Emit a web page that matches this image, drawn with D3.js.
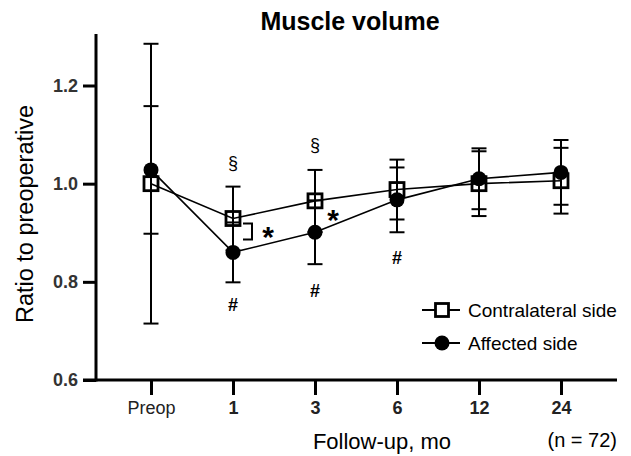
<!DOCTYPE html>
<html>
<head>
<meta charset="utf-8">
<script src="https://cdn.jsdelivr.net/npm/d3@7"></script>
<style>
  html, body { margin: 0; padding: 0; background: #fff; }
  svg { display: block; font-family: "Liberation Sans", Arial, sans-serif; }
</style>
</head>
<body>
<svg id="chart" width="631" height="456"></svg>
<script>
// ---- data ----
const categories = ["Preop", "1", "3", "6", "12", "24"];
const contralateral = [1.000, 0.929, 0.965, 0.988, 1.000, 1.006];
const contralateralErr = [0.285, 0.065, 0.063, 0.061, 0.066, 0.067];
const affected = [1.028, 0.860, 0.901, 0.967, 1.010, 1.023];
const affectedErr = [0.130, 0.061, 0.065, 0.066, 0.062, 0.066];
const yTicks = [0.6, 0.8, 1.0, 1.2];
const yMax = 1.305;
const sectionMarks = [{cat: "1", v: 1.039}, {cat: "3", v: 1.077}];                      // §
const hashMarks = [{cat: "1", v: 0.753}, {cat: "3", v: 0.783}, {cat: "6", v: 0.850}];   // #
const starMarks = [{cat: "1", v: 0.906, dx: 35}, {cat: "3", v: 0.941, dx: 18}];         // *

const svg = d3.select("#chart");
const x = d3.scalePoint().domain(categories).range([151, 561]);
const y = d3.scaleLinear().domain([0.6, 1.2]).range([380, 85.5]);
const axisLeft = 96, axisRight = 617;

// title
svg.append("text").attr("x", 350).attr("y", 30).attr("text-anchor", "middle")
  .attr("font-size", 25).attr("font-weight", "bold").text("Muscle volume");

// y axis
const gy = svg.append("g").attr("transform", `translate(${axisLeft},0)`)
  .call(d3.axisLeft(y).tickValues(yTicks).tickFormat(d3.format(".1f")).tickSize(13).tickPadding(5));
gy.select(".domain").remove();
gy.selectAll(".tick line").attr("stroke", "#000").attr("stroke-width", 3);
gy.selectAll(".tick text").attr("font-size", 18).attr("font-weight", "bold").attr("fill", "#333")
  .attr("font-family", "Liberation Sans, Arial, sans-serif");
svg.append("line").attr("x1", axisLeft).attr("x2", axisLeft).attr("y1", y(yMax)).attr("y2", y(0.6) + 1.5)
  .attr("stroke", "#000").attr("stroke-width", 3);

// x axis
const gx = svg.append("g").attr("transform", `translate(0,${y(0.6)})`)
  .call(d3.axisBottom(x).tickSize(15).tickPadding(6));
gx.select(".domain").remove();
gx.selectAll(".tick line").attr("stroke", "#000").attr("stroke-width", 3);
gx.selectAll(".tick text").attr("font-size", 18).attr("fill", "#222")
  .attr("font-family", "Liberation Sans, Arial, sans-serif")
  .attr("font-weight", d => d === "Preop" ? "normal" : "bold");
svg.append("line").attr("x1", axisLeft - 13).attr("x2", axisRight).attr("y1", y(0.6)).attr("y2", y(0.6))
  .attr("stroke", "#000").attr("stroke-width", 3);

// axis titles
svg.append("text").attr("transform", `translate(33,${214}) rotate(-90)`).attr("text-anchor", "middle")
  .attr("font-size", 23.5).text("Ratio to preoperative");
svg.append("text").attr("x", 382).attr("y", 449).attr("text-anchor", "middle")
  .attr("font-size", 22).text("Follow-up, mo");
svg.append("text").attr("x", 617).attr("y", 447).attr("text-anchor", "end")
  .attr("font-size", 20).text("(n = 72)");

// series
const series = [
  {name: "Contralateral side", vals: contralateral, err: contralateralErr, type: "square"},
  {name: "Affected side", vals: affected, err: affectedErr, type: "circle"}
];
const line = d3.line().x(d => x(d.c)).y(d => y(d.v));
series.forEach(s => {
  const pts = categories.map((c, i) => ({c, v: s.vals[i], e: s.err[i]}));
  svg.append("path").datum(pts).attr("d", line).attr("fill", "none")
    .attr("stroke", "#000").attr("stroke-width", 1.6);
  s.pts = pts;
});
series.forEach(s => {
  const g = svg.append("g");
  if (s.type === "square") {
    g.selectAll("rect").data(s.pts).join("rect")
      .attr("x", d => x(d.c) - 7).attr("y", d => y(d.v) - 7)
      .attr("width", 14).attr("height", 14)
      .attr("fill", "none").attr("stroke", "#000").attr("stroke-width", 2.8);
  } else {
    g.selectAll("circle").data(s.pts).join("circle")
      .attr("cx", d => x(d.c)).attr("cy", d => y(d.v)).attr("r", 7.5).attr("fill", "#000");
  }
});
// error bars
series.forEach(s => {
  const g = svg.append("g").attr("stroke", "#000").attr("stroke-width", 2);
  s.pts.forEach(d => {
    const cx = x(d.c);
    g.append("line").attr("x1", cx).attr("x2", cx).attr("y1", y(d.v + d.e)).attr("y2", y(d.v - d.e));
    [d.v + d.e, d.v - d.e].forEach(v => {
      g.append("line").attr("x1", cx - 7.5).attr("x2", cx + 7.5).attr("y1", y(v)).attr("y2", y(v));
    });
  });
});

// annotations
sectionMarks.forEach(m => {
  svg.append("text").attr("x", x(m.cat)).attr("y", y(m.v) + 4.8).attr("text-anchor", "middle")
    .attr("font-size", 18).text("§");
});
hashMarks.forEach(m => {
  svg.append("text").attr("x", x(m.cat)).attr("y", y(m.v) + 6.5).attr("text-anchor", "middle")
    .attr("font-size", 18).attr("font-weight", "bold").text("#");
});
starMarks.forEach(m => {
  svg.append("text").attr("x", x(m.cat) + m.dx).attr("y", y(m.v) + 17).attr("text-anchor", "middle")
    .attr("font-size", 30).attr("font-weight", "bold").text("*");
});
// bracket between the two series at month 1
const bx = x("1");
svg.append("path")
  .attr("d", `M${bx + 10},${y(contralateral[1]) + 5} H${bx + 19} V${y(affected[1]) - 13} H${bx + 10}`)
  .attr("fill", "none").attr("stroke", "#000").attr("stroke-width", 2);

// legend
const legend = [
  {name: "Contralateral side", type: "square", yy: 310},
  {name: "Affected side", type: "circle", yy: 343}
];
legend.forEach(l => {
  const g = svg.append("g");
  g.append("line").attr("x1", 422).attr("x2", 460).attr("y1", l.yy).attr("y2", l.yy)
    .attr("stroke", "#000").attr("stroke-width", 2);
  if (l.type === "square") {
    g.append("rect").attr("x", 442 - 6.5).attr("y", l.yy - 6.5).attr("width", 13).attr("height", 13)
      .attr("fill", "#fff").attr("stroke", "#000").attr("stroke-width", 2.8);
  } else {
    g.append("circle").attr("cx", 442).attr("cy", l.yy).attr("r", 7.5).attr("fill", "#000");
  }
  g.append("text").attr("x", 468).attr("y", l.yy + 6.5).attr("font-size", 19).text(l.name);
});
</script>
</body>
</html>
